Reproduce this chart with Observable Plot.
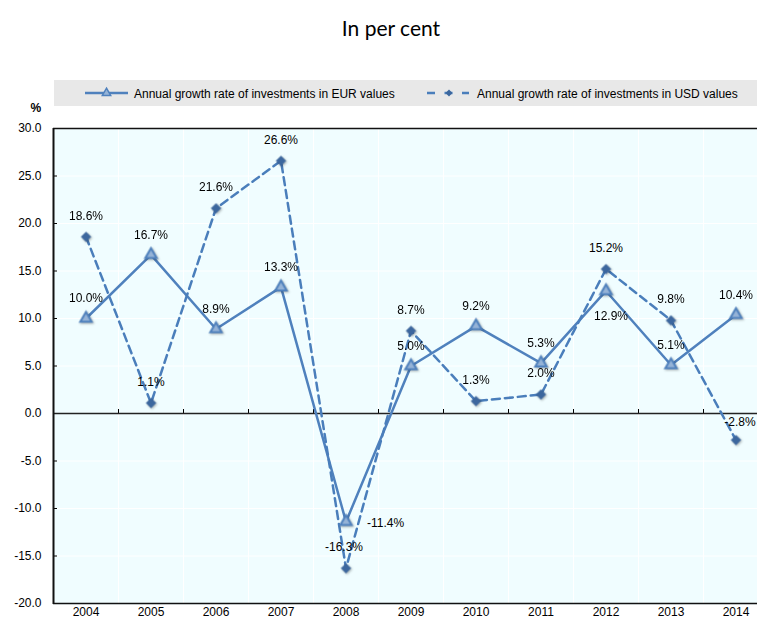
<!DOCTYPE html>
<html>
<head>
<meta charset="utf-8">
<script src="https://cdn.jsdelivr.net/npm/d3@7"></script>
<script src="https://cdn.jsdelivr.net/npm/@observablehq/plot@0.6"></script>
<style>
  html, body { margin: 0; padding: 0; background: #fff; overflow: hidden; }
  #wrap { width: 757px; height: 621px; position: relative; font-family: "Liberation Sans", Arial, sans-serif; }
  #title { height: 66px; line-height: 56px; text-align: center; font-family: Lato, "Open Sans", sans-serif; font-size: 21px; color: #000; padding-left: 25px; box-sizing: border-box; }
  #legend { height: 44px; position: relative; }
  #legend svg { position: absolute; left: 0; top: 0; }
  #chart svg { display: block; }
</style>
</head>
<body>
<div id="wrap">
  <div id="title">In per cent</div>
  <div id="legend"></div>
  <div id="chart"></div>
</div>
<script>
const years = [2004, 2005, 2006, 2007, 2008, 2009, 2010, 2011, 2012, 2013, 2014];
const eurGrowth = [10.0, 16.7, 8.9, 13.3, -11.4, 5.0, 9.2, 5.3, 12.9, 5.1, 10.4];
const usdGrowth = [18.6, 1.1, 21.6, 26.6, -16.3, 8.7, 1.3, 2.0, 15.2, 9.8, -2.8];
const yTicks = [-20, -15, -10, -5, 0, 5, 10, 15, 20, 25, 30];
const seriesNames = ["Annual growth rate of investments in EUR values", "Annual growth rate of investments in USD values"];
const yUnit = "%";

const eurColor = "#4F81BD";
const eurFill = "#95B3D7";
const usdColor = "#4A7EBB";
const usdMarker = "#3C679E";

const eurRows = years.map((year, i) => ({year, value: eurGrowth[i]}));
const usdRows = years.map((year, i) => ({year, value: usdGrowth[i]}));
const boundaries = years.map(y => y + 0.5);
const fmt = d => d.value.toFixed(1) + "%";

// Legend
const lg = d3.create("svg").attr("width", 757).attr("height", 44);
lg.append("rect").attr("x", 54).attr("y", 14).attr("width", 703).attr("height", 26).attr("fill", "#E8E8E8");
lg.append("line").attr("x1", 85).attr("x2", 128).attr("y1", 27).attr("y2", 27).attr("stroke", eurColor).attr("stroke-width", 2.5);
lg.append("path").attr("d", d3.symbol(d3.symbolTriangle, 30)()).attr("transform", "translate(106.5,27)").attr("fill", eurFill).attr("stroke", eurColor).attr("stroke-width", 1.5);
lg.append("text").attr("x", 134).attr("y", 31.5).attr("font-size", 12).attr("fill", "#000").text(seriesNames[0]);
lg.append("line").attr("x1", 427).attr("x2", 469).attr("y1", 27).attr("y2", 27).attr("stroke", usdColor).attr("stroke-width", 2.5).attr("stroke-dasharray", "8,9.5");
lg.append("path").attr("d", d3.symbol(d3.symbolDiamond2, 30)()).attr("transform", "translate(449,27)").attr("fill", usdMarker);
lg.append("text").attr("x", 477).attr("y", 31.5).attr("font-size", 12).attr("fill", "#000").text(seriesNames[1]);
document.getElementById("legend").append(lg.node());

const chart = Plot.plot({
  width: 757,
  height: 511,
  marginTop: 18,
  marginLeft: 53,
  marginRight: 0,
  marginBottom: 17,
  style: {fontFamily: "'Liberation Sans', Arial, sans-serif", fontSize: "12px", color: "#000", background: "transparent", overflow: "visible"},
  x: {type: "linear", domain: [2003.5, 2014.5], range: [53, 768]},
  y: {domain: [-20, 30], range: [493, 18]},
  marks: [
    Plot.frame({fill: "#F0FDFF", stroke: "none"}),
    Plot.ruleY(yTicks.filter(v => v !== 0 && v !== 30 && v !== -20), {stroke: "#fff", strokeWidth: 1}),
    Plot.ruleX(boundaries, {stroke: "#fff", strokeWidth: 1}),
    Plot.ruleY(yTicks, {x1: 2003.5, x2: 2003.5 + 4 / 65, stroke: "#000", strokeWidth: 1}),
    Plot.ruleX(boundaries, {y1: 0, y2: 0.42, stroke: "#000", strokeWidth: 1}),
    Plot.ruleY([0], {stroke: "#222", strokeWidth: 1.3}),
    Plot.ruleY([30], {stroke: "#111", strokeWidth: 1.5}),
    Plot.ruleY([-20], {stroke: "#111", strokeWidth: 1.5}),
    Plot.ruleX([2003.5], {stroke: "#111", strokeWidth: 2}),
    Plot.axisY({ticks: yTicks, tickSize: 0, tickPadding: 12, tickFormat: d => d.toFixed(1), label: null}),
    Plot.axisX({ticks: years, tickSize: 0, tickPadding: 3, tickFormat: d => String(d), label: null}),
    Plot.text([yUnit], {frameAnchor: "top-left", dx: -23, dy: -17, lineAnchor: "bottom", fontWeight: "bold", fontSize: 12}),
    Plot.line(eurRows, {x: "year", y: "value", stroke: eurColor, strokeWidth: 2.5}),
    Plot.line(usdRows, {x: "year", y: "value", stroke: usdColor, strokeWidth: 2.5, strokeDasharray: "8,5"}),
    Plot.dot(eurRows, {x: "year", y: "value", symbol: "triangle", r: 4.2, fill: eurFill, stroke: eurColor, strokeWidth: 2}),
    Plot.dot(usdRows, {x: "year", y: "value", symbol: "diamond2", r: 4.4, fill: usdMarker, stroke: usdMarker, strokeWidth: 0.5}),
    Plot.text(eurRows.filter(d => d.year !== 2008 && d.year !== 2012), {x: "year", y: "value", text: fmt, dy: -20, fill: "#000"}),
    Plot.text(eurRows.filter(d => d.year === 2008), {x: "year", y: "value", text: fmt, dx: 21, dy: 1, textAnchor: "start", fill: "#000"}),
    Plot.text(eurRows.filter(d => d.year === 2012), {x: "year", y: "value", text: fmt, dx: 5, dy: 25, fill: "#000"}),
    Plot.text(usdRows.filter(d => d.year !== 2008 && d.year !== 2014), {x: "year", y: "value", text: fmt, dy: -21, fill: "#000"}),
    Plot.text(usdRows.filter(d => d.year === 2008), {x: "year", y: "value", text: fmt, dx: -2, dy: -21, fill: "#000"}),
    Plot.text(usdRows.filter(d => d.year === 2014), {x: "year", y: "value", text: fmt, dx: 4, dy: -18, fill: "#000"})
  ]
});
d3.select(chart).selectAll('g[aria-label="dot"]').style("filter", "drop-shadow(1px 1.5px 1px rgba(0,0,0,0.3))");
document.getElementById("chart").append(chart);
</script>
</body>
</html>
